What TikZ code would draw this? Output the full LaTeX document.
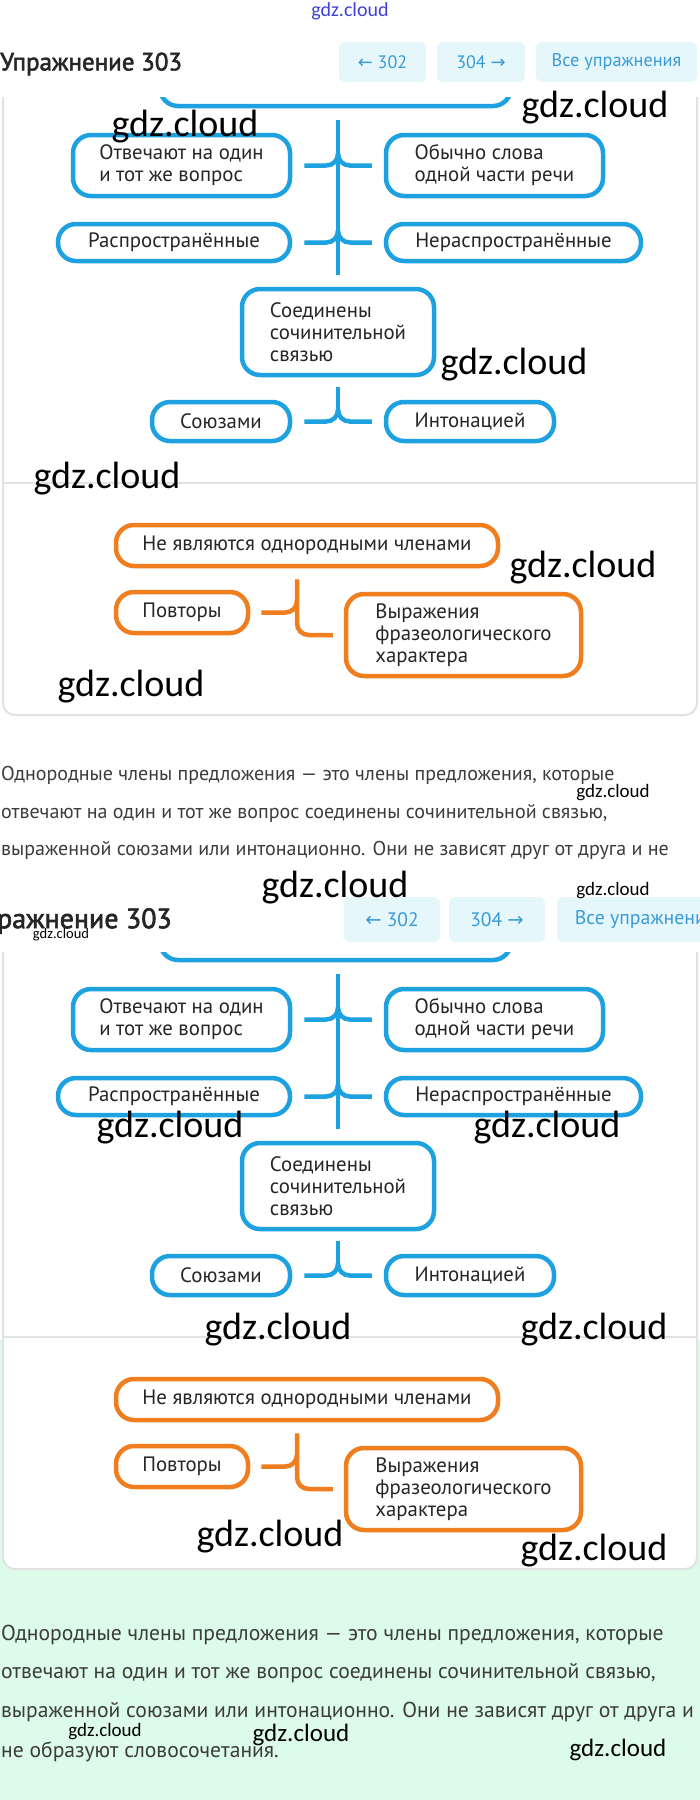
\documentclass[tikz,border=0pt]{standalone}
\usepackage{fontspec}
\setmainfont{PT Sans}
\newfontfamily\marcafont{Carlito}
\newfontfamily\flechafont{DejaVu Sans}
\newfontfamily\titulofont[FakeBold=2.2]{PT Sans}
\usetikzlibrary{calc}
\definecolor{Azul}{HTML}{1DA1E0}
\definecolor{Naranja}{HTML}{F07D1E}
\definecolor{Borde}{HTML}{E2E2E2}
\definecolor{Cian}{HTML}{E6F7FC}
\definecolor{CianOscuro}{HTML}{3A9BD5}
\definecolor{Tinta}{HTML}{262626}
\definecolor{Gris}{HTML}{3C3C3C}
\definecolor{Menta}{HTML}{DDFBE9}
\definecolor{Marca}{HTML}{4040D8}
\tikzset{
  cajaA/.style={draw=Azul,line width=4.5pt,rounded corners=18pt,fill=white,
    inner sep=0pt,align=left,text=Tinta,font=\fontsize{20.8}{22}\selectfont},
  cajaN/.style={cajaA,draw=Naranja},
  azl/.style={Azul,line width=4.5pt},
  nrj/.style={Naranja,line width=4.5pt},
  tarjeta/.style={draw=Borde,fill=white,line width=2pt,rounded corners=12pt},
  boton/.style={fill=Cian,rounded corners=6pt,inner sep=0pt,text=CianOscuro},
  renglon/.style={anchor=west,inner sep=0pt,text=Gris},
  marca/.style={inner sep=0pt,text=black}
}
\begin{document}
\begin{tikzpicture}[x=1pt,y=-1pt]
  \useasboundingbox (0,0) rectangle (700,1800);
  \fill[white] (0,0) rectangle (700,1800);
  \fill[Menta] (0,1340) rectangle (700,1800);
  \foreach \dy/\pre in {0/a,854/b}{
  \begin{scope}[shift={(0,\dy)},name prefix=\pre-]
    \draw[tarjeta] (3,60) rectangle (697,715);
    \draw[Borde,line width=2pt] (3,483) -- (697,483);
    % blue scheme
    \node[cajaA,minimum width=351,minimum height=70] (root) at (335.5,71) {};
    \node[cajaA,minimum width=217,minimum height=61] (ans) at (181.5,165.5)
      {Отвечают на один\\и тот же вопрос};
    \node[cajaA,minimum width=217,minimum height=61] (pos) at (494.5,165.5)
      {Обычно слова\\одной части речи};
    \node[cajaA,minimum width=232,minimum height=37] (ext) at (174,242.5)
      {Распространённые};
    \node[cajaA,minimum width=255,minimum height=37] (noext) at (513.5,242.5)
      {Нераспространённые};
    \node[cajaA,minimum width=192,minimum height=86] (link) at (338,332)
      {Соединены\\сочинительной\\связью};
    \node[cajaA,minimum width=138,minimum height=39] (conj) at (221,421.5)
      {Союзами};
    \node[cajaA,minimum width=168,minimum height=39] (inton) at (470,421.5)
      {Интонацией};
    \draw[azl] ($(root.south)+(2.5,12)$) -- ($(link.north)+(0,-12)$);
    \foreach \l/\r in {ans/pos,ext/noext,conj/inton}{
      \draw[azl] ($(\l.east)+(12,0)$) -- ($(\l.east -| link.north)+(-12,0)$)
        .. controls +(7,0) and +(0,7) .. ($(\l.east -| link.north)+(0,-12)$);
      \draw[azl] ($(\r.west)+(-12,0)$) -- ($(\r.west -| link.north)+(12,0)$)
        .. controls +(-7,0) and +(0,7) .. ($(\r.west -| link.north)+(0,-12)$);
    }
    \draw[azl] ($(link.south)+(0,10)$) -- ($(conj.east -| link.south)+(0,-11)$);
    % orange scheme
    \node[cajaN,minimum width=382,minimum height=41] (nothom) at (307,545.5)
      {Не являются однородными членами};
    \node[cajaN,minimum width=132,minimum height=41] (rep) at (182,612.5)
      {Повторы};
    \node[cajaN,minimum width=235,minimum height=82] (phr) at (463.5,635)
      {Выражения\\фразеологического\\характера};
    \coordinate (otr) at ($(nothom.south)+(-10,11)$);
    \draw[nrj] ($(rep.east)+(11,0)$) -- ($(rep.east -| otr)+(-12,0)$)
      .. controls +(7,0) and +(0,7) .. ($(rep.east -| otr)+(0,-12)$);
    \draw[nrj] (otr) -- ($(phr.west -| otr)+(0,-12)$)
      .. controls +(0,7) and +(-7,0) .. ($(phr.west -| otr)+(12,0)$)
      -- ($(phr.west)+(-11,0)$);
  \end{scope}
  }
  % headers
  \fill[white] (0,0) rectangle (700,97);
  \fill[white] (0,862) rectangle (700,952);
  \node[anchor=west,inner sep=0pt,text=Tinta,font=\titulofont\fontsize{25}{25}\selectfont]
    (tit1) at (0,64) {Упражнение 303};
  \node[boton,minimum width=87,minimum height=40,font=\fontsize{18}{18}\selectfont]
    (ant1) at (382.5,62) {{\flechafont ←}\ 302};
  \node[boton,minimum width=88,minimum height=40,font=\fontsize{18}{18}\selectfont]
    (sig1) at (481,62) {304\ {\flechafont →}};
  \node[boton,minimum width=161,minimum height=40,font=\fontsize{18.3}{18.3}\selectfont]
    (todo1) at (616.5,62) {Все упражнения};
  \node[anchor=east,inner sep=0pt,text=Tinta,font=\titulofont\fontsize{28}{28}\selectfont]
    (tit2) at (172,921) {Упражнение 303};
  \node[boton,minimum width=96,minimum height=45,font=\fontsize{19.5}{19.5}\selectfont]
    (ant2) at (392,919.5) {{\flechafont ←}\ 302};
  \node[boton,minimum width=96,minimum height=45,font=\fontsize{19.5}{19.5}\selectfont]
    (sig2) at (497,919.5) {304\ {\flechafont →}};
  \node[boton,minimum width=176,minimum height=45,font=\fontsize{19.8}{19.8}\selectfont]
    (todo2) at (645,919.5) {Все упражнения};
  % text below the cards
  \node[renglon,font=\fontsize{20}{20}\selectfont] (p1) at (1,775)
    {Однородные члены предложения — это члены предложения, которые};
  \node[renglon,font=\fontsize{20}{20}\selectfont] (p2) at (1,813)
    {отвечают на один и тот же вопрос соединены сочинительной связью,};
  \node[renglon,font=\fontsize{20}{20}\selectfont] (p3) at (1,850)
    {выраженной союзами или интонационно. Они не зависят друг от друга и не};
  \node[renglon,font=\fontsize{21.6}{21.6}\selectfont] (q1) at (1,1635)
    {Однородные члены предложения — это члены предложения, которые};
  \node[renglon,font=\fontsize{21.6}{21.6}\selectfont] (q2) at (1,1673)
    {отвечают на один и тот же вопрос соединены сочинительной связью,};
  \node[renglon,font=\fontsize{21.6}{21.6}\selectfont] (q3) at (1,1712)
    {выраженной союзами или интонационно. Они не зависят друг от друга и};
  \node[renglon,font=\fontsize{21.6}{21.6}\selectfont] (q4) at (1,1752)
    {не образуют словосочетания.};
  % watermarks
  \node[marca,text=Marca,font=\marcafont\fontsize{20}{20}\selectfont] (m0) at (350,11) {gdz.cloud};
  \foreach \x/\y/\s [count=\i] in {185/127/38,595/108/38,514/365/38,107/479/38,
      583/568/38,131/687/38,613/793/19,335/888/38,613/891/19,61/935/14.5,
      170/1128/38,547/1128/38,278/1330/38,594/1330/38,270/1537/38,594/1551/38,
      105/1732/19,301/1735/25,618/1750/25}{
    \node[marca,font=\marcafont\fontsize{\s}{\s}\selectfont] (m\i) at (\x,\y) {gdz.cloud};
  }
\end{tikzpicture}
\end{document}
